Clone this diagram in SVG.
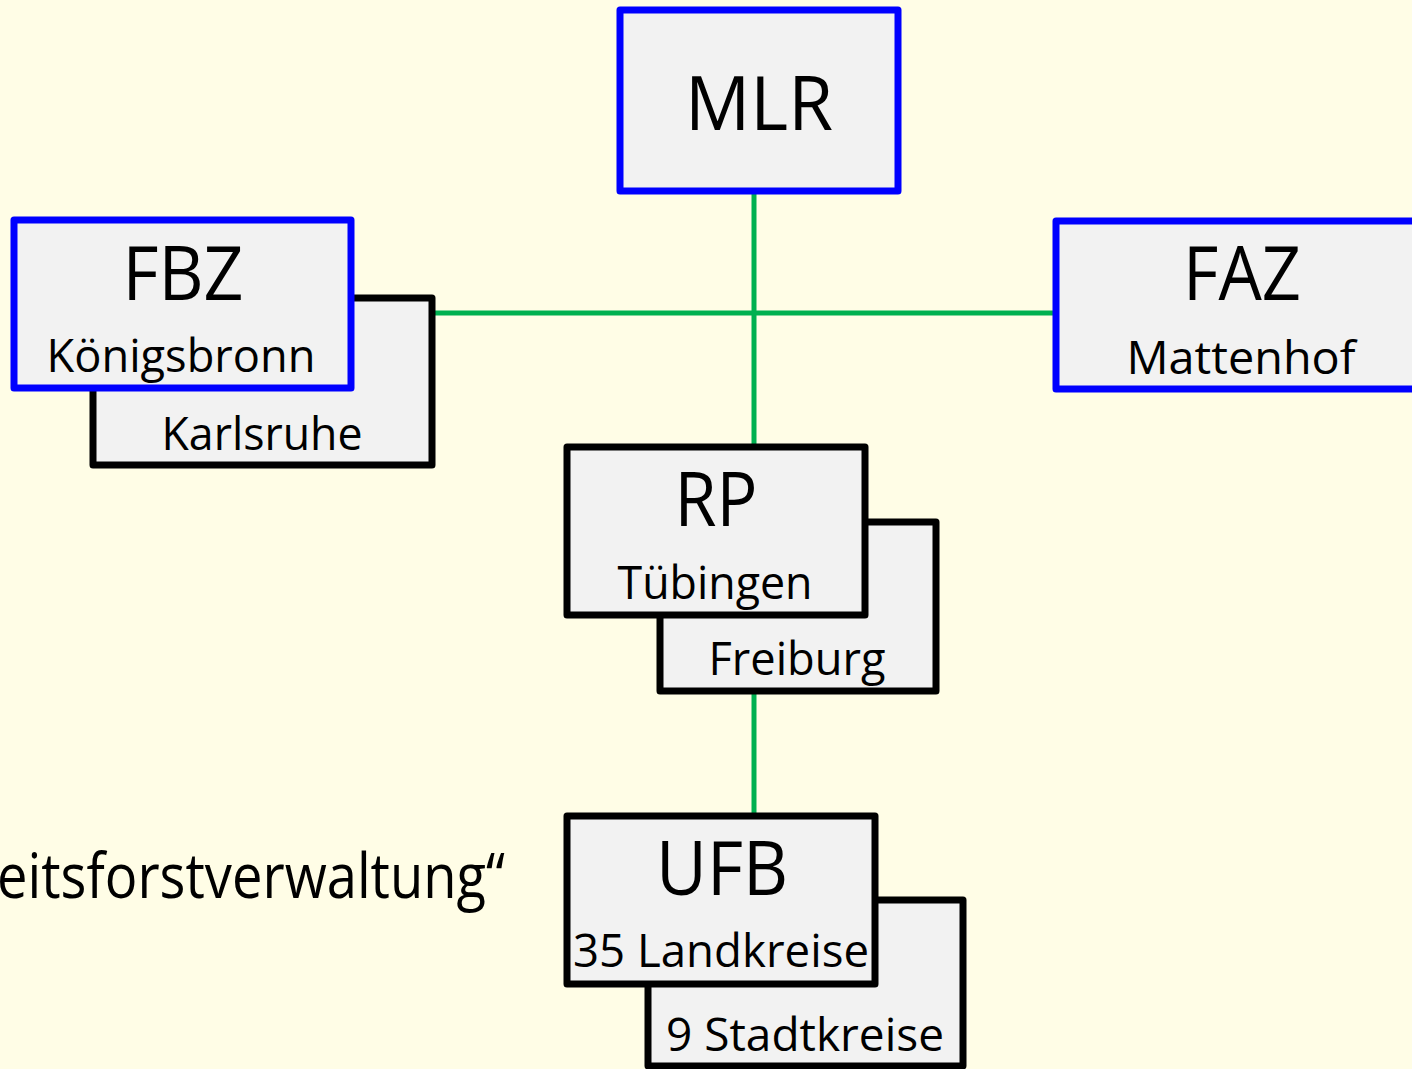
<svg xmlns="http://www.w3.org/2000/svg" width="1412" height="1069" viewBox="0 0 1412 1069">
<style>
.box{fill:#F2F2F2;stroke:#000;stroke-width:7;stroke-linejoin:round}
.blue{stroke:#0000FF}
.t{font-family:"Open Sans","Lato","Liberation Sans",sans-serif;fill:#000;text-anchor:middle}
.big{font-size:75px}
.sub{font-size:45px}
.conn{stroke:#00B050;stroke-width:5;fill:none}
</style>
<rect width="1412" height="1069" fill="#FFFDE6"/>
<g id="connectors">
<line class="conn" x1="754" y1="191" x2="754" y2="447"/>
<line class="conn" x1="432" y1="313" x2="1056" y2="313"/>
<line class="conn" x1="754" y1="691" x2="754" y2="816"/>
</g>
<g id="MLR">
<rect class="box blue" x="620" y="10" width="278" height="181"/>
<text class="t big" x="759" y="130" textLength="148" lengthAdjust="spacingAndGlyphs">MLR</text>
</g>
<g id="FBZ-Karlsruhe">
<rect class="box" x="93" y="298" width="339" height="167"/>
<text class="t sub" x="262" y="450" textLength="201" lengthAdjust="spacingAndGlyphs">Karlsruhe</text>
</g>
<g id="FBZ">
<rect class="box blue" x="14" y="220" width="337" height="168"/>
<text class="t big" x="183" y="300" textLength="121" lengthAdjust="spacingAndGlyphs">FBZ</text>
<text class="t sub" x="181" y="372" textLength="269" lengthAdjust="spacingAndGlyphs">Königsbronn</text>
</g>
<g id="FAZ">
<rect class="box blue" x="1056" y="221" width="370" height="168"/>
<text class="t big" x="1242" y="300" textLength="118" lengthAdjust="spacingAndGlyphs">FAZ</text>
<text class="t sub" x="1241" y="374" textLength="229" lengthAdjust="spacingAndGlyphs">Mattenhof</text>
</g>
<g id="RP-Freiburg">
<rect class="box" x="660" y="522" width="276" height="169"/>
<text class="t sub" x="797" y="675" textLength="177" lengthAdjust="spacingAndGlyphs">Freiburg</text>
</g>
<g id="RP">
<rect class="box" x="567" y="447" width="298" height="168"/>
<text class="t big" x="716" y="526" textLength="83" lengthAdjust="spacingAndGlyphs">RP</text>
<text class="t sub" x="715" y="599" textLength="195" lengthAdjust="spacingAndGlyphs">Tübingen</text>
</g>
<g id="UFB-Stadtkreise">
<rect class="box" x="648" y="900" width="315" height="166"/>
<text class="t sub" x="805" y="1051" textLength="278" lengthAdjust="spacingAndGlyphs">9 Stadtkreise</text>
</g>
<g id="UFB">
<rect class="box" x="567" y="816" width="308" height="168"/>
<text class="t big" x="722" y="895" textLength="132" lengthAdjust="spacingAndGlyphs">UFB</text>
<text class="t sub" x="721" y="967" textLength="296" lengthAdjust="spacingAndGlyphs">35 Landkreise</text>
</g>
<text class="t" x="505" y="898" font-size="62" style="text-anchor:end" textLength="508" lengthAdjust="spacingAndGlyphs">eitsforstverwaltung“</text>
</svg>
